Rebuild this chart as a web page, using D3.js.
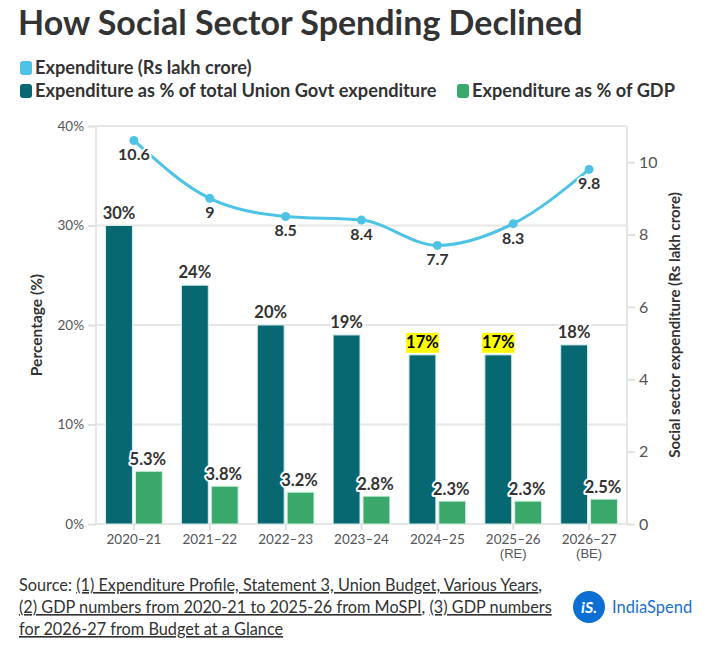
<!DOCTYPE html>
<html lang="en">
<head>
<meta charset="utf-8">
<title>How Social Sector Spending Declined</title>
<script src="https://d3js.org/d3.v7.min.js"></script>
<style>
  body { margin: 0; background: #fff; }
  svg { display: block; font-family: Lato, "Open Sans", sans-serif; }
</style>
</head>
<body>
<script>
// data
var years = ["2020–21", "2021–22", "2022–23", "2023–24", "2024–25", "2025–26", "2026–27"];
var yearNotes = ["", "", "", "", "", "(RE)", "(BE)"];
var pctUnion = [30, 24, 20, 19, 17, 17, 18];
var pctGdp = [5.3, 3.8, 3.2, 2.8, 2.3, 2.3, 2.5];
var spend = [10.6, 9, 8.5, 8.4, 7.7, 8.3, 9.8];
var highlighted = ["2024–25", "2025–26"];
var leftTicks = [0, 10, 20, 30, 40];
var rightTicks = [0, 2, 4, 6, 8, 10];

var W = 719, H = 649;
var m = {top: 126, right: 92, bottom: 125, left: 96};
var teal = "#076872", green = "#3aa86b", blue = "#4ec3e6", ink = "#333";

var svg = d3.select("body").append("svg").attr("width", W).attr("height", H);

// title
svg.append("text")
   .attr("x", 18).attr("y", 35)
   .style("font-size", "34px").style("font-weight", "bold").style("fill", ink)
   .text("How Social Sector Spending Declined");

// legend
var legend = [
  {label: "Expenditure (Rs lakh crore)", color: blue, x: 18, y: 68},
  {label: "Expenditure as % of total Union Govt expenditure", color: teal, x: 18, y: 91},
  {label: "Expenditure as % of GDP", color: green, x: 455, y: 91}
];
var lg = svg.selectAll("g.legend").data(legend).enter().append("g")
   .attr("transform", function (d) { return "translate(" + d.x + "," + d.y + ")"; });
lg.append("rect").attr("x", 2).attr("y", -7).attr("width", 12).attr("height", 14).attr("rx", 3)
   .style("fill", function (d) { return d.color; });
lg.append("text").attr("x", 17).attr("dy", "0.35em")
   .style("font-size", "18.2px").style("font-weight", "bold").style("fill", ink)
   .text(function (d) { return d.label; });

var iw = W - m.left - m.right, ih = H - m.top - m.bottom;
var g = svg.append("g").attr("transform", "translate(" + m.left + "," + m.top + ")");

var x = d3.scaleBand().domain(years).range([0, iw]);
var xs = d3.scaleBand().domain(["union", "gdp"]).range([0, x.bandwidth()])
   .paddingInner(0.1).paddingOuter(0.32);
var yL = d3.scaleLinear().domain([0, 40]).range([ih, 0]);
var yR = d3.scaleLinear().domain([0, 11]).range([ih, 0]);

// gridlines
g.selectAll("line.grid").data(leftTicks).enter().append("line")
   .attr("x1", 0).attr("x2", iw)
   .attr("y1", function (d) { return yL(d); }).attr("y2", function (d) { return yL(d); })
   .style("stroke", "#e6e6e6").style("stroke-width", 2);
g.append("line").attr("x1", 0).attr("x2", 0).attr("y1", 0).attr("y2", ih)
   .style("stroke", "#e6e6e6").style("stroke-width", 2);
g.append("line").attr("x1", iw).attr("x2", iw).attr("y1", 0).attr("y2", ih)
   .style("stroke", "#e6e6e6").style("stroke-width", 2);

// axes
var axL = g.append("g").call(d3.axisLeft(yL).tickValues(leftTicks).tickSize(8).tickPadding(4)
   .tickFormat(function (d) { return d + "%"; }));
var axR = g.append("g").attr("transform", "translate(" + iw + ",0)")
   .call(d3.axisRight(yR).tickValues(rightTicks).tickSize(8).tickPadding(4));
var axB = g.append("g").attr("transform", "translate(0," + ih + ")")
   .call(d3.axisBottom(x).tickSize(6).tickPadding(4));
[axL, axR, axB].forEach(function (a) {
  a.select(".domain").remove();
  a.selectAll(".tick line").style("stroke", "#e0e0e0").style("stroke-width", 2);
  a.selectAll(".tick text").style("fill", "#555").style("font-family", "Lato, sans-serif");
});
axL.selectAll(".tick text").style("font-size", "13.5px");
axR.selectAll(".tick text").style("font-size", "16px");
axB.selectAll(".tick text").style("font-size", "13.5px");
axB.selectAll(".tick").append("text")
   .attr("y", 25).attr("dy", "0.71em").attr("text-anchor", "middle")
   .style("fill", "#555").style("font-size", "13px")
   .text(function (d, i) { return yearNotes[i]; });

// axis titles
g.append("text")
   .attr("transform", "translate(-54," + (ih / 2) + ") rotate(-90)")
   .attr("text-anchor", "middle")
   .style("font-size", "15.5px").style("font-weight", "bold").style("fill", ink)
   .text("Percentage (%)");
g.append("text")
   .attr("transform", "translate(" + (iw + 53) + "," + (ih / 2) + ") rotate(-90)")
   .attr("text-anchor", "middle")
   .style("font-size", "15px").style("font-weight", "bold").style("fill", ink)
   .text("Social sector expenditure (Rs lakh crore)");

// bars
var rows = years.map(function (y, i) {
  return {year: y, union: pctUnion[i], gdp: pctGdp[i], spend: spend[i]};
});
var grp = g.selectAll("g.year").data(rows).enter().append("g")
   .attr("transform", function (d) { return "translate(" + x(d.year) + ",0)"; });

grp.append("rect")
   .attr("x", xs("union")).attr("width", xs.bandwidth())
   .attr("y", function (d) { return yL(d.union); })
   .attr("height", function (d) { return ih - yL(d.union); })
   .style("fill", teal).style("stroke", "#d8ecec").style("stroke-width", 1);
grp.append("rect")
   .attr("x", xs("gdp")).attr("width", xs.bandwidth())
   .attr("y", function (d) { return yL(d.gdp); })
   .attr("height", function (d) { return ih - yL(d.gdp); })
   .style("fill", green).style("stroke", "#d8f0e2").style("stroke-width", 1);

function halo(sel) {
  sel.style("stroke", "#fff").style("stroke-width", 4).style("stroke-linejoin", "round")
     .style("paint-order", "stroke");
}

// bar labels
grp.each(function (d) {
  var el = d3.select(this);
  var hl = highlighted.indexOf(d.year) >= 0;
  var t = el.append("text")
     .attr("x", xs("union") + xs.bandwidth() / 2)
     .attr("y", yL(d.union) - 7)
     .attr("text-anchor", "middle")
     .style("font-size", "16.5px").style("font-weight", "bold").style("fill", hl ? "#000" : ink)
     .text(d.union + "%");
  if (hl) {
    var b = t.node().getBBox();
    el.insert("rect", "text").attr("x", b.x).attr("y", b.y + 1)
       .attr("width", b.width).attr("height", b.height)
       .style("fill", "#ffff00");
  } else {
    halo(t);
  }
  el.append("text")
     .attr("x", xs("gdp") + xs.bandwidth() / 2 - 1)
     .attr("y", yL(d.gdp) - 6)
     .attr("text-anchor", "middle")
     .style("font-size", "16.5px").style("font-weight", "bold").style("fill", ink)
     .text(d.gdp + "%")
     .call(halo);
});

// line
var cx = function (d) { return x(d.year) + x.bandwidth() / 2; };
g.append("path").datum(rows)
   .attr("d", d3.line().x(cx).y(function (d) { return yR(d.spend); }).curve(d3.curveMonotoneX))
   .style("fill", "none").style("stroke", blue).style("stroke-width", 3);
g.selectAll("circle.pt").data(rows).enter().append("circle")
   .attr("cx", cx).attr("cy", function (d) { return yR(d.spend); }).attr("r", 4.5)
   .style("fill", blue);
g.selectAll("text.pt").data(rows).enter().append("text")
   .attr("x", cx).attr("y", function (d) { return yR(d.spend) + 20; })
   .attr("text-anchor", "middle")
   .style("font-size", "16px").style("font-weight", "bold").style("fill", ink)
   .text(function (d) { return d.spend; })
   .call(halo);

// source
var src = [
  [["Source: ", false], ["(1) Expenditure Profile, Statement 3, Union Budget, Various Years", true], [",", false]],
  [["(2) GDP numbers from 2020-21 to 2025-26 from MoSPI", true], [", ", false], ["(3) GDP numbers", true]],
  [["for 2026-27 from Budget at a Glance", true]]
];
src.forEach(function (line, i) {
  var t = svg.append("text").attr("x", 19).attr("y", 591 + i * 22)
     .style("font-size", "16.3px").style("fill", ink);
  line.forEach(function (p) {
    t.append("tspan").text(p[0]).style("text-decoration", p[1] ? "underline" : "none");
  });
});

// logo
svg.append("circle").attr("cx", 589).attr("cy", 607).attr("r", 16).style("fill", "#0b6fd3");
svg.append("text").attr("x", 589).attr("y", 613).attr("text-anchor", "middle")
   .style("font-size", "16px").style("font-weight", "bold").style("font-style", "italic")
   .style("fill", "#fff").text("iS.");
svg.append("text").attr("x", 612).attr("y", 613)
   .style("font-size", "16.5px").style("fill", "#1c6fd1").text("IndiaSpend");
</script>
</body>
</html>
